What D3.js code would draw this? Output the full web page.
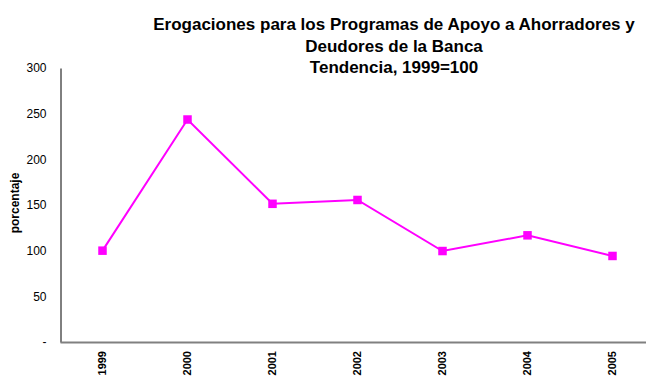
<!DOCTYPE html>
<html>
<head>
<meta charset="utf-8">
<script src="https://cdn.jsdelivr.net/npm/d3@7"></script>
<style>
  html, body { margin: 0; padding: 0; background: #fff; }
  svg { display: block; font-family: "Liberation Sans", Arial, sans-serif; }
</style>
</head>
<body>
<svg id="chart" width="646" height="380"></svg>
<script>
// Index of outlays (1999 = 100)
const years = ["1999", "2000", "2001", "2002", "2003", "2004", "2005"];
const indexValues = [100, 243.6, 151.3, 155.5, 99.6, 116.8, 94.2];
const yTicks = [0, 50, 100, 150, 200, 250, 300];
const yTickLabels = ["-", "50", "100", "150", "200", "250", "300"];
const titleLines = [
  "Erogaciones para los Programas de Apoyo a Ahorradores y",
  "Deudores de la Banca",
  "Tendencia, 1999=100"
];
const yAxisTitle = "porcentaje";

const svg = d3.select("#chart");

const x = d3.scaleBand().domain(years).range([60, 655]);
const y = d3.scaleLinear().domain([0, 300]).range([342, 68]);

// Title
svg.append("g")
  .selectAll("text")
  .data(titleLines)
  .join("text")
  .attr("x", 394)
  .attr("y", (d, i) => 30 + i * 21.5)
  .attr("text-anchor", "middle")
  .attr("font-size", 17)
  .attr("font-weight", "bold")
  .attr("fill", "#000")
  .text(d => d);

// Y axis
const yAxis = d3.axisLeft(y)
  .tickValues(yTicks)
  .tickSize(0)
  .tickPadding(14)
  .tickFormat((d, i) => yTickLabels[i]);

const gy = svg.append("g")
  .attr("transform", "translate(60.5,0)")
  .call(yAxis);
gy.select(".domain").attr("stroke", "#000").attr("stroke-width", 1);
gy.selectAll("text")
  .attr("font-size", 12)
  .attr("font-family", "Liberation Sans, Arial, sans-serif")
  .attr("fill", "#000");

// X axis
const xAxis = d3.axisBottom(x).tickSize(0).tickPadding(0);
const gx = svg.append("g")
  .attr("transform", "translate(0,342)")
  .call(xAxis);
gx.select(".domain").attr("stroke", "#808080").attr("stroke-width", 2);
gx.selectAll("text")
  .attr("font-size", 11)
  .attr("font-weight", "bold")
  .attr("font-family", "Liberation Sans, Arial, sans-serif")
  .attr("fill", "#000")
  .attr("text-anchor", "end")
  .attr("dy", "0.35em")
  .attr("transform", "translate(0,9) rotate(-90)")
  .attr("y", 0)
  .attr("x", 0);

// Y axis title
svg.append("text")
  .attr("transform", "translate(19,203) rotate(-90)")
  .attr("text-anchor", "middle")
  .attr("font-size", 12)
  .attr("font-weight", "bold")
  .attr("fill", "#000")
  .text(yAxisTitle);

// Line
const data = years.map((yr, i) => ({ year: yr, value: indexValues[i] }));
const line = d3.line()
  .x(d => x(d.year) + x.bandwidth() / 2)
  .y(d => y(d.value));

svg.append("path")
  .datum(data)
  .attr("fill", "none")
  .attr("stroke", "#FF00FF")
  .attr("stroke-width", 2)
  .attr("d", line);

// Square markers
const ms = 8.5;
svg.append("g")
  .selectAll("rect")
  .data(data)
  .join("rect")
  .attr("x", d => x(d.year) + x.bandwidth() / 2 - ms / 2)
  .attr("y", d => y(d.value) - ms / 2)
  .attr("width", ms)
  .attr("height", ms)
  .attr("fill", "#FF00FF");
</script>
</body>
</html>
